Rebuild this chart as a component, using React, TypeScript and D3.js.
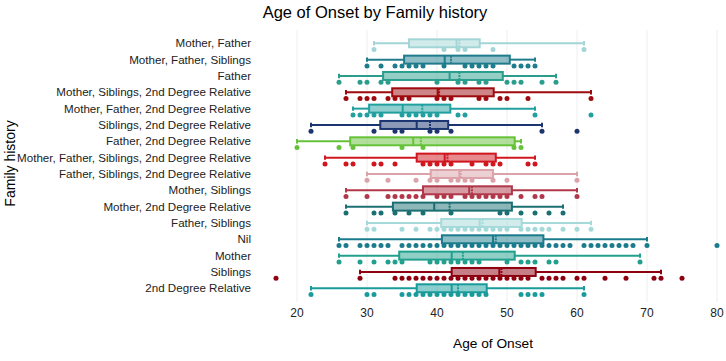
import React, { useEffect, useRef } from 'react';
import * as d3 from 'd3';

const categories = [
  'Mother, Father',
  'Mother, Father, Siblings',
  'Father',
  'Mother, Siblings, 2nd Degree Relative',
  'Mother, Father, 2nd Degree Relative',
  'Siblings, 2nd Degree Relative',
  'Father, 2nd Degree Relative',
  'Mother, Father, Siblings, 2nd Degree Relative',
  'Father, Siblings, 2nd Degree Relative',
  'Mother, Siblings',
  'Mother, 2nd Degree Relative',
  'Father, Siblings',
  'Nil',
  'Mother',
  'Siblings',
  '2nd Degree Relative',
];

const colors = [
  '#a3d5d6', '#1f7c8c', '#2a9d8c', '#9e0b0f', '#22a0a0', '#1a3570', '#66c23a', '#d0161e',
  '#dca2aa', '#b0384a', '#1b6f73', '#a6dada', '#1a7b8c', '#22a08e', '#8e0010', '#1a9b9b',
];

// box statistics
const lowers = [31, 30, 26, 27, 28, 22, 20, 24, 30, 27, 27, 30, 26, 26, 29, 22];
const q1s = [36, 35.3, 32.3, 33.6, 30.3, 31.9, 27.6, 37.1, 39.1, 38, 33.7, 40.6, 40.7, 34.6, 42.1, 37.1];
const medians = [42.8, 41.1, 41.8, 40.1, 35.1, 37.1, 36.6, 41.1, 43.2, 44.6, 39.6, 46.1, 48, 42.1, 48.9, 42.1];
const means = [43.2, 42, 43.2, 40.3, 37.9, 39, 37.7, 41.5, 43.4, 45, 41.8, 46.5, 48.4, 43.7, 49.2, 43];
const q3s = [46.1, 50.4, 49.4, 48.1, 41.9, 41.6, 51.1, 48.4, 48, 50.7, 50.7, 52.1, 55.2, 51.1, 54.1, 47.1];
const uppers = [61, 54, 57, 62, 54, 55, 52, 54, 60, 60, 58, 62, 70, 69, 72, 61];

const points: number[][] = [
  [31, 41, 43, 44, 48, 61],
  [30, 32, 34, 35, 36, 37, 38, 41, 44, 45, 46, 47, 48, 51, 52, 53, 54],
  [26, 29, 30, 32, 33, 40, 43, 44, 46, 47, 50, 51, 52, 55, 57],
  [27, 29, 30, 31, 33, 34, 35, 36, 40, 41, 42, 46, 47, 49, 50, 53, 62],
  [28, 29, 30, 31, 32, 35, 36, 37, 38, 39, 40, 43, 44, 54, 62],
  [22, 31, 34, 35, 39, 40, 42, 55, 60],
  [20, 26, 28, 35, 38, 51, 52],
  [24, 27, 28, 31, 32, 34, 38, 39, 40, 41, 42, 45, 47, 48, 49, 53, 54],
  [30, 33, 37, 39, 40, 42, 43, 44, 45, 48, 50, 60],
  [27, 30, 33, 34, 35, 36, 37, 38, 40, 41, 42, 44, 45, 46, 47, 48, 49, 50, 52, 54, 55, 60],
  [27, 31, 32, 34, 36, 38, 42, 49, 50, 52, 54, 56, 58],
  [30, 31, 35, 37, 39, 40, 41, 42, 43, 44, 45, 46, 47, 48, 49, 50, 52, 53, 54, 55, 56, 58, 60, 62],
  [26, 27, 29, 30, 31, 32, 33, 35, 36, 37, 38, 39, 40, 41, 42, 43, 44, 45, 46, 47, 48, 49, 50, 51,
    52, 53, 54, 55, 56, 57, 58, 59, 61, 62, 63, 64, 65, 66, 67, 68, 70, 80],
  [26, 29, 31, 33, 34, 35, 39, 40, 41, 42, 43, 44, 45, 46, 50, 52, 53, 54, 56, 57, 69],
  [17, 29, 34, 35, 36, 37, 38, 39, 40, 41, 42, 43, 44, 45, 46, 47, 48, 49, 50, 51, 52, 53, 55, 56,
    57, 58, 60, 61, 64, 67, 71, 72, 75],
  [22, 30, 31, 35, 36, 37, 38, 39, 40, 41, 42, 43, 44, 45, 46, 47, 52, 53, 54, 55, 61],
];

const xTicks = [20, 30, 40, 50, 60, 70, 80];

const FONT = '"Liberation Sans", Arial, sans-serif';

const BoxChart: React.FC = () => {
  const svgRef = useRef<SVGSVGElement>(null);

  useEffect(() => {
    if (!svgRef.current) return;
    const height = 361;

    const svg = d3.select(svgRef.current);
    svg.selectAll('*').remove();

    const x = d3.scaleLinear().domain([20, 80]).range([297, 717]);
    const y = d3.scalePoint<string>().domain(categories).range([43.3, 288.3]);

    // grid
    svg.append('g')
      .selectAll('line')
      .data(xTicks)
      .join('line')
      .attr('x1', d => x(d)).attr('x2', d => x(d))
      .attr('y1', 30).attr('y2', 302)
      .attr('stroke', '#eeeeee')
      .attr('stroke-width', 1);

    const boxH = 8;
    const cap = 2.2;

    const rows = svg.append('g')
      .selectAll('g')
      .data(categories)
      .join('g')
      .attr('transform', d => `translate(0,${y(d)})`);

    rows.each(function (_, i) {
      const g = d3.select(this);
      const c = colors[i];

      // whiskers
      g.append('line')
        .attr('x1', x(lowers[i])).attr('x2', x(q1s[i]))
        .attr('y1', 0).attr('y2', 0)
        .attr('stroke', c).attr('stroke-width', 2);
      g.append('line')
        .attr('x1', x(q3s[i])).attr('x2', x(uppers[i]))
        .attr('y1', 0).attr('y2', 0)
        .attr('stroke', c).attr('stroke-width', 2);
      [lowers[i], uppers[i]].forEach(v => {
        g.append('line')
          .attr('x1', x(v)).attr('x2', x(v))
          .attr('y1', -cap).attr('y2', cap)
          .attr('stroke', c).attr('stroke-width', 2);
      });

      // box
      g.append('rect')
        .attr('x', x(q1s[i]))
        .attr('y', -boxH / 2)
        .attr('width', x(q3s[i]) - x(q1s[i]))
        .attr('height', boxH)
        .attr('fill', c)
        .attr('fill-opacity', 0.5)
        .attr('stroke', c)
        .attr('stroke-width', 2);

      g.append('line')
        .attr('x1', x(medians[i])).attr('x2', x(medians[i]))
        .attr('y1', -boxH / 2).attr('y2', boxH / 2)
        .attr('stroke', c).attr('stroke-width', 2);
      g.append('line')
        .attr('x1', x(means[i])).attr('x2', x(means[i]))
        .attr('y1', -boxH / 2).attr('y2', boxH / 2)
        .attr('stroke', c).attr('stroke-width', 2)
        .attr('stroke-dasharray', '2,1');

      // points
      g.selectAll('circle')
        .data(points[i])
        .join('circle')
        .attr('cx', d => x(d))
        .attr('cy', 6.3)
        .attr('r', 2.5)
        .attr('fill', c);
    });

    // y tick labels
    svg.append('g')
      .selectAll('text')
      .data(categories)
      .join('text')
      .attr('x', 251)
      .attr('y', d => y(d)!)
      .attr('dy', '0.35em')
      .attr('text-anchor', 'end')
      .style('font-family', FONT)
      .style('font-size', '11.6px')
      .style('fill', '#222')
      .text(d => d);

    // x tick labels
    svg.append('g')
      .selectAll('text')
      .data(xTicks)
      .join('text')
      .attr('x', d => x(d))
      .attr('y', 313)
      .attr('dy', '0.35em')
      .attr('text-anchor', 'middle')
      .style('font-family', FONT)
      .style('font-size', '12px')
      .style('fill', '#222')
      .text(d => d);

    svg.append('text')
      .attr('x', 375)
      .attr('y', 12)
      .attr('dy', '0.35em')
      .attr('text-anchor', 'middle')
      .style('font-family', FONT)
      .style('font-size', '16.5px')
      .style('fill', '#000')
      .text('Age of Onset by Family history');

    svg.append('text')
      .attr('x', 493)
      .attr('y', 343)
      .attr('dy', '0.35em')
      .attr('text-anchor', 'middle')
      .style('font-family', FONT)
      .style('font-size', '13.7px')
      .style('fill', '#000')
      .text('Age of Onset');

    svg.append('text')
      .attr('transform', `translate(10,${height / 2 - 17}) rotate(-90)`)
      .attr('dy', '0.35em')
      .attr('text-anchor', 'middle')
      .style('font-family', FONT)
      .style('font-size', '14px')
      .style('fill', '#000')
      .text('Family history');
  }, []);

  return <svg ref={svgRef} width={726} height={361} style={{ position: 'absolute', left: 0, top: 0, background: '#fff' }} />;
};

export default function App() {
  return <BoxChart />;
}
